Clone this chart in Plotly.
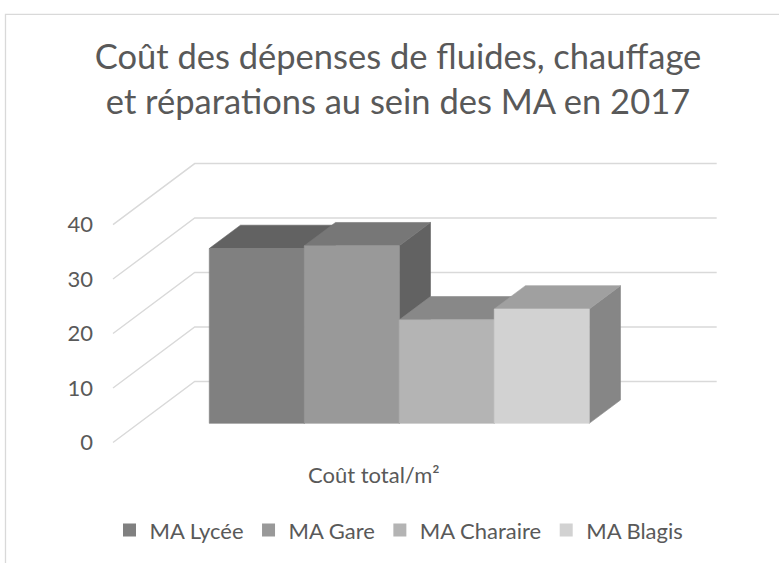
import plotly.graph_objects as go

# ---- data ----
categories = ["MA Lycée", "MA Gare", "MA Charaire", "MA Blagis"]
values = [32.1, 32.6, 19.0, 21.0]
group_label = "Coût total/m²"
y_ticks = [0, 10, 20, 30, 40]
title_text = "Coût des dépenses de fluides, chauffage<br>et réparations au sein des MA en 2017"

# ---- styles ----
front_colors = ["#808080", "#999999", "#b4b4b4", "#d2d2d2"]
top_colors = ["#626262", "#777777", "#888888", "#a0a0a0"]
side_colors = ["#525252", "#626262", "#737373", "#868686"]
grid_color = "#d9d9d9"
text_color = "#595959"
FONT = "Lato"

# ---- layout geometry (pixels) ----
W, H = 779, 563
L, R, T, B = 100, 720, 150, 460
PX_PER_UNIT = 5.5
Y0_PX = 445.3               # pixel row of value 0 on the front edge
DX = 81.7                   # horizontal shift from front to back wall (px)
DYU = 61.6 / PX_PER_UNIT    # vertical shift front->back in value units
WALL_X0 = 113.0             # front-left edge of side wall
WALL_X1 = 716.7             # right end of back-wall gridlines
SLOT0 = 183.7               # left of first bar slot at depth 0
SLOT_W = 95.0
D_FRONT, D_BACK = 0.313, 0.695

yrange = [(Y0_PX - B) / PX_PER_UNIT, (Y0_PX - T) / PX_PER_UNIT]

fig = go.Figure()

# ---- walls / gridlines ----
gx, gy = [], []
for v in y_ticks:
    gx += [WALL_X0, WALL_X0 + DX, WALL_X1, None]
    gy += [v, v + DYU, v + DYU, None]
fig.add_trace(go.Scatter(x=gx, y=gy, mode="lines",
                         line=dict(color=grid_color, width=1.4),
                         hoverinfo="skip", showlegend=False))

# ---- 3D bars (drawn left to right for correct occlusion) ----
ddx = (D_BACK - D_FRONT) * DX
ddy = (D_BACK - D_FRONT) * DYU
for i, (name, v) in enumerate(zip(categories, values)):
    x0 = SLOT0 + i * SLOT_W + D_FRONT * DX
    x1 = x0 + SLOT_W
    yb = D_FRONT * DYU
    yt = v + yb
    faces = [
        ([x1, x1 + ddx, x1 + ddx, x1, x1], [yb, yb + ddy, yt + ddy, yt, yb], side_colors[i]),
        ([x0, x1, x1 + ddx, x0 + ddx, x0], [yt, yt, yt + ddy, yt + ddy, yt], top_colors[i]),
        ([x0, x1, x1, x0, x0], [yb, yb, yt, yt, yb], front_colors[i]),
    ]
    for fx, fy, col in faces:
        fig.add_trace(go.Scatter(x=fx, y=fy, mode="lines", fill="toself",
                                 fillcolor=col, line=dict(color=col, width=0.6),
                                 hoverinfo="skip", showlegend=False))

# ---- legend entries ----
for name, col in zip(categories, front_colors):
    fig.add_trace(go.Scatter(x=[None], y=[None], mode="markers", name=name,
                             marker=dict(symbol="square", size=13, color=col)))

fig.add_annotation(x=SLOT0 + 2 * SLOT_W, xref="x",
                   y=(B - 478) / (B - T), yref="paper", yanchor="middle",
                   text=group_label, showarrow=False,
                   font=dict(family=FONT, size=22, color=text_color))

fig.update_layout(
    width=W, height=H,
    margin=dict(l=L, r=W - R, t=T, b=H - B, pad=0),
    paper_bgcolor="white", plot_bgcolor="white",
    title=dict(text=title_text, x=398 / W, xanchor="center",
               y=1 - 69 / H, yanchor="top",
               font=dict(family=FONT, size=34.5, color=text_color)),
    xaxis=dict(range=[L, R], visible=False, fixedrange=True),
    yaxis=dict(range=yrange, tickvals=y_ticks, ticks="", showgrid=False,
               zeroline=False, showline=False, ticklabelstandoff=6,
               tickfont=dict(family=FONT, size=22, color=text_color)),
    legend=dict(orientation="h", x=(399 - L) / (R - L), xanchor="center",
                y=(B - 534) / (B - T), yanchor="middle", itemwidth=30,
                font=dict(family=FONT, size=22, color=text_color)),
    shapes=[dict(type="rect", xref="paper", yref="paper",
                 x0=(5.5 - L) / (R - L), x1=(800 - L) / (R - L),
                 y0=(B - 600) / (B - T), y1=(B - 13) / (B - T),
                 line=dict(color=grid_color, width=1.3), fillcolor="rgba(0,0,0,0)",
                 layer="below")],
)

fig.write_html("out.html", config={"displayModeBar": False},
               post_script="document.body.style.margin='0px';")
